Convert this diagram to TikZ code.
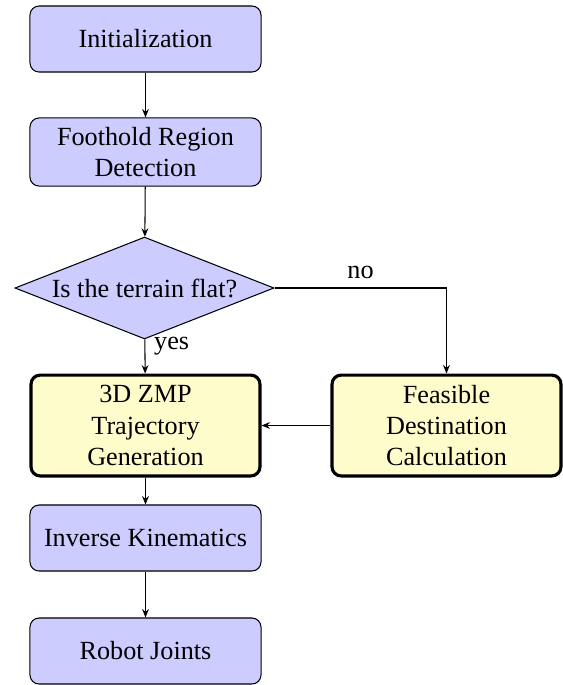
\documentclass[tikz,border=0pt]{standalone}
\usepackage{fontspec}
\IfFontExistsTF{LiberationSerif-Regular.ttf}{\setmainfont{LiberationSerif-Regular.ttf}}{\setmainfont{Liberation Serif}}
\usetikzlibrary{shapes.geometric,arrows.meta}
\begin{document}
\begin{tikzpicture}[x=0.38168pt,y=-0.38168pt,
  blockbox/.style={draw=black, fill=blue!20, rounded corners=3.5pt, minimum width=88.2pt, minimum height=25.2pt, align=center, inner sep=2pt},
  keybox/.style={draw=black, very thick, fill=yellow!20, rounded corners=3.5pt, minimum width=87.4pt, minimum height=38.5pt, align=center, inner sep=2pt},
  decbox/.style={draw=black, fill=blue!20, shape=diamond, aspect=2.54, inner sep=0pt, minimum width=98.9pt, minimum height=38.9pt},
  arr/.style={-{Stealth[length=3.2pt,width=2.6pt]}, thin}]
\useasboundingbox (0,0) rectangle (563,685);
\node[blockbox] (init) at (145.5,39) {Initialization};
\node[blockbox, minimum height=26pt] (foot) at (145.5,152) {Foothold Region\\Detection};
\node[decbox] (dec) at (144.5,288) {Is the terrain flat?};
\node[keybox] (zmp) at (145.5,425.5) {3D ZMP\\Trajectory\\Generation};
\node[keybox] (feas) at (446.5,425.5) {Feasible\\Destination\\Calculation};
\node[blockbox] (ik) at (145.5,538) {Inverse Kinematics};
\node[blockbox] (robot) at (145.5,651) {Robot Joints};
\draw[arr] (init) -- (foot);
\draw[arr] (foot) -- (dec);
\draw[arr] (dec) -- node[pos=0.2, anchor=west] {yes} (zmp);
\draw[arr] (dec.east) -| node[pos=0.25, above] {no} (feas.north);
\draw[arr] (feas) -- (zmp);
\draw[arr] (zmp) -- (ik);
\draw[arr] (ik) -- (robot);
\end{tikzpicture}
\end{document}
